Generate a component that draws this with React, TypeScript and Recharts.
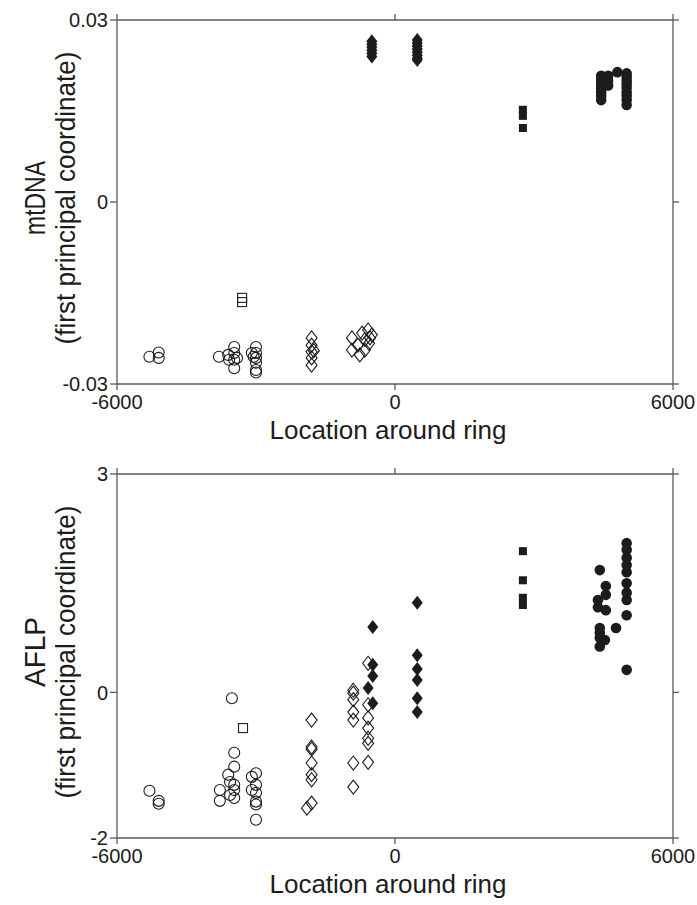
import React from "react";
import { ScatterChart, Scatter, XAxis, YAxis } from "recharts";

type Pt = { x: number; y: number };

const xTicks = [-6000, 0, 6000];
const mtTicks = [-0.03, 0, 0.03];
const aflpTicks = [-2, 0, 3];

// mtDNA panel
const mtOpenCircles: Pt[] = [
  { x: -5300, y: -0.0255 }, { x: -5100, y: -0.0248 }, { x: -5100, y: -0.0257 },
  { x: -3800, y: -0.0255 }, { x: -3600, y: -0.0252 }, { x: -3580, y: -0.026 },
  { x: -3470, y: -0.0239 }, { x: -3470, y: -0.0249 }, { x: -3470, y: -0.026 },
  { x: -3470, y: -0.0274 }, { x: -3410, y: -0.0257 },
  { x: -3090, y: -0.0249 }, { x: -3050, y: -0.0255 }, { x: -3000, y: -0.0239 },
  { x: -3000, y: -0.0249 }, { x: -3000, y: -0.0257 }, { x: -3000, y: -0.0265 },
  { x: -3000, y: -0.0277 }, { x: -3000, y: -0.0281 },
];
const mtOpenSquares: Pt[] = [
  { x: -3300, y: -0.0158 }, { x: -3300, y: -0.0165 },
];
const mtOpenDiamonds: Pt[] = [
  { x: -1800, y: -0.0224 }, { x: -1800, y: -0.0236 }, { x: -1800, y: -0.0247 },
  { x: -1800, y: -0.0257 }, { x: -1800, y: -0.0269 }, { x: -1750, y: -0.0245 },
  { x: -930, y: -0.0224 }, { x: -930, y: -0.0244 }, { x: -800, y: -0.0236 },
  { x: -760, y: -0.0252 }, { x: -710, y: -0.0216 }, { x: -650, y: -0.0227 },
  { x: -650, y: -0.0244 }, { x: -580, y: -0.0211 }, { x: -560, y: -0.0233 },
  { x: -540, y: -0.0224 }, { x: -500, y: -0.0219 },
];
const mtFilledDiamonds: Pt[] = [
  { x: -500, y: 0.0265 }, { x: -500, y: 0.026 }, { x: -500, y: 0.0255 },
  { x: -500, y: 0.025 }, { x: -500, y: 0.0245 }, { x: -500, y: 0.024 },
  { x: 480, y: 0.0267 }, { x: 480, y: 0.0262 }, { x: 480, y: 0.0257 },
  { x: 480, y: 0.0252 }, { x: 480, y: 0.0247 }, { x: 480, y: 0.0242 },
  { x: 480, y: 0.0237 }, { x: 480, y: 0.0234 },
];
const mtFilledSquares: Pt[] = [
  { x: 2760, y: 0.0152 }, { x: 2760, y: 0.0142 }, { x: 2760, y: 0.0122 },
];
const mtFilledCircles: Pt[] = [
  { x: 4450, y: 0.0208 }, { x: 4450, y: 0.0203 }, { x: 4450, y: 0.0198 },
  { x: 4450, y: 0.0192 }, { x: 4450, y: 0.0187 }, { x: 4450, y: 0.0181 },
  { x: 4450, y: 0.0175 }, { x: 4450, y: 0.0168 },
  { x: 4600, y: 0.0208 }, { x: 4600, y: 0.02 }, { x: 4600, y: 0.0192 },
  { x: 4800, y: 0.0214 },
  { x: 5000, y: 0.0212 }, { x: 5000, y: 0.0206 }, { x: 5000, y: 0.02 },
  { x: 5000, y: 0.0194 }, { x: 5000, y: 0.0188 }, { x: 5000, y: 0.0181 },
  { x: 5000, y: 0.0175 }, { x: 5000, y: 0.0168 }, { x: 5000, y: 0.016 },
];

// AFLP panel
const aflpOpenCircles: Pt[] = [
  { x: -5300, y: -1.35 }, { x: -5100, y: -1.49 }, { x: -5100, y: -1.53 },
  { x: -3780, y: -1.34 }, { x: -3780, y: -1.49 }, { x: -3600, y: -1.13 },
  { x: -3560, y: -1.23 }, { x: -3560, y: -1.41 }, { x: -3520, y: -0.08 },
  { x: -3470, y: -0.83 }, { x: -3470, y: -1.02 }, { x: -3470, y: -1.27 },
  { x: -3470, y: -1.34 }, { x: -3470, y: -1.45 },
  { x: -3090, y: -1.16 }, { x: -3090, y: -1.34 }, { x: -3000, y: -1.11 },
  { x: -3000, y: -1.27 }, { x: -3000, y: -1.38 }, { x: -3000, y: -1.5 },
  { x: -3000, y: -1.54 }, { x: -3000, y: -1.75 },
];
const aflpOpenSquares: Pt[] = [{ x: -3280, y: -0.49 }];
const aflpOpenDiamonds: Pt[] = [
  { x: -1800, y: -0.38 }, { x: -1800, y: -0.75 }, { x: -1800, y: -0.78 },
  { x: -1800, y: -0.97 }, { x: -1800, y: -1.13 }, { x: -1800, y: -1.2 },
  { x: -1800, y: -1.52 }, { x: -1900, y: -1.59 },
  { x: -900, y: 0.03 }, { x: -900, y: -0.01 }, { x: -900, y: -0.1 },
  { x: -900, y: -0.27 }, { x: -900, y: -0.38 }, { x: -900, y: -0.97 },
  { x: -900, y: -1.3 },
  { x: -580, y: 0.4 }, { x: -580, y: -0.17 }, { x: -580, y: -0.35 },
  { x: -580, y: -0.49 }, { x: -580, y: -0.63 }, { x: -580, y: -0.7 },
  { x: -580, y: -0.96 },
];
const aflpFilledDiamonds: Pt[] = [
  { x: -480, y: 0.9 }, { x: -480, y: 0.38 }, { x: -480, y: 0.225 },
  { x: -480, y: -0.15 }, { x: -580, y: 0.06 },
  { x: 480, y: 1.23 }, { x: 480, y: 0.51 }, { x: 480, y: 0.32 },
  { x: 480, y: 0.17 }, { x: 480, y: -0.08 }, { x: 480, y: -0.27 },
];
const aflpFilledSquares: Pt[] = [
  { x: 2760, y: 1.94 }, { x: 2760, y: 1.54 }, { x: 2760, y: 1.3 }, { x: 2760, y: 1.2 },
];
const aflpFilledCircles: Pt[] = [
  { x: 4420, y: 1.68 }, { x: 4550, y: 1.46 }, { x: 4550, y: 1.34 },
  { x: 4380, y: 1.27 }, { x: 4380, y: 1.17 }, { x: 4550, y: 1.13 },
  { x: 4420, y: 0.885 }, { x: 4420, y: 0.82 }, { x: 4420, y: 0.75 },
  { x: 4420, y: 0.63 }, { x: 4530, y: 0.72 }, { x: 4770, y: 0.885 },
  { x: 5000, y: 2.05 }, { x: 5000, y: 1.96 }, { x: 5000, y: 1.85 },
  { x: 5000, y: 1.75 }, { x: 5000, y: 1.65 }, { x: 5000, y: 1.5 },
  { x: 5000, y: 1.37 }, { x: 5000, y: 1.27 }, { x: 5000, y: 1.06 },
  { x: 5000, y: 0.31 },
];

const INK = "#1c1c1c";
const AXIS = "#5a5a5a";

const OpenCircle = ({ cx, cy }: any) => (
  <circle cx={cx} cy={cy} r={5.5} fill="none" stroke={INK} strokeWidth={1.1} />
);
const FilledCircle = ({ cx, cy }: any) => <circle cx={cx} cy={cy} r={5.3} fill={INK} />;
const OpenSquare = ({ cx, cy }: any) => (
  <rect x={cx - 4.5} y={cy - 4.5} width={9} height={9} fill="none" stroke={INK} strokeWidth={1.1} />
);
const FilledSquare = ({ cx, cy }: any) => (
  <rect x={cx - 4} y={cy - 4} width={8} height={8} fill={INK} />
);
const diamond = (cx: number, cy: number) =>
  `${cx},${cy - 7} ${cx + 5.5},${cy} ${cx},${cy + 7} ${cx - 5.5},${cy}`;
const OpenDiamond = ({ cx, cy }: any) => (
  <polygon points={diamond(cx, cy)} fill="none" stroke={INK} strokeWidth={1.1} />
);
const FilledDiamond = ({ cx, cy }: any) => <polygon points={diamond(cx, cy)} fill={INK} />;

const XTitle = (props: any) => {
  const vb = props.viewBox || {};
  return (
    <text x={388} y={(vb.y ?? 0) + 46} textAnchor="middle" dominantBaseline="central" fontSize={26} fill={INK}>
      Location around ring
    </text>
  );
};

const makeYTitle = (name: string, nameLen: number) => (props: any) => {
  const vb = props.viewBox || {};
  const cy = (vb.y ?? 0) + (vb.height ?? 0) / 2 - 4;
  return (
    <g>
      <text x={35} y={cy} transform={`rotate(-90, 35, ${cy})`} textAnchor="middle" dominantBaseline="central"
        fontSize={29} fill={INK} textLength={nameLen} lengthAdjust="spacingAndGlyphs">
        {name}
      </text>
      <text x={66} y={cy} transform={`rotate(-90, 66, ${cy})`} textAnchor="middle" dominantBaseline="central"
        fontSize={27} fill={INK} textLength={293} lengthAdjust="spacingAndGlyphs">
        (first principal coordinate)
      </text>
    </g>
  );
};

type Series = { data: Pt[]; shape: any };

function Panel(props: {
  height: number; topH: number; bottomH: number;
  yDomain: number[]; yTicks: number[]; yTitle: any; series: Series[];
}) {
  const { height, topH, bottomH, yDomain, yTicks, yTitle, series } = props;
  const tickStyle = { fontSize: 20, fill: INK };
  return (
    <ScatterChart width={697} height={height} margin={{ top: 0, right: 0, bottom: 0, left: 0 }}>
      <XAxis xAxisId="b" type="number" dataKey="x" domain={[-6000, 6000]} ticks={xTicks} interval={0}
        orientation="bottom" height={bottomH} tickSize={6} tickMargin={5} stroke={AXIS} strokeWidth={1.3}
        tick={tickStyle} label={{ content: XTitle }} allowDataOverflow />
      <XAxis xAxisId="t" type="number" dataKey="x" domain={[-6000, 6000]} ticks={xTicks} interval={0}
        orientation="top" height={topH} tickSize={6} stroke={AXIS} strokeWidth={1.3}
        tick={() => <g />} allowDataOverflow />
      <YAxis yAxisId="l" type="number" dataKey="y" domain={yDomain} ticks={yTicks} interval={0}
        width={117} tickSize={7} tickMargin={2} stroke={AXIS} strokeWidth={1.3}
        tick={tickStyle} label={{ content: yTitle }} allowDataOverflow />
      <YAxis yAxisId="r" type="number" dataKey="y" domain={yDomain} ticks={yTicks} interval={0}
        orientation="right" width={24} tickSize={6} stroke={AXIS} strokeWidth={1.3}
        tick={() => <g />} allowDataOverflow />
      {series.map((s, i) => (
        <Scatter key={i} data={s.data} xAxisId="b" yAxisId="l" shape={s.shape} isAnimationActive={false} />
      ))}
    </ScatterChart>
  );
}

export default function App() {
  const mtSeries: Series[] = [
    { data: mtOpenCircles, shape: OpenCircle },
    { data: mtOpenSquares, shape: OpenSquare },
    { data: mtOpenDiamonds, shape: OpenDiamond },
    { data: mtFilledDiamonds, shape: FilledDiamond },
    { data: mtFilledSquares, shape: FilledSquare },
    { data: mtFilledCircles, shape: FilledCircle },
  ];
  const aflpSeries: Series[] = [
    { data: aflpOpenCircles, shape: OpenCircle },
    { data: aflpOpenSquares, shape: OpenSquare },
    { data: aflpOpenDiamonds, shape: OpenDiamond },
    { data: aflpFilledDiamonds, shape: FilledDiamond },
    { data: aflpFilledSquares, shape: FilledSquare },
    { data: aflpFilledCircles, shape: FilledCircle },
  ];
  return (
    <div style={{ position: "absolute", top: 0, left: 0, width: 697, height: 905, background: "#fff",
      fontFamily: "'Liberation Sans', Arial, sans-serif" }}>
      <div style={{ height: 452 }}>
        <Panel height={452} topH={20} bottomH={68} yDomain={[-0.03, 0.03]} yTicks={mtTicks}
          yTitle={makeYTitle("mtDNA", 74)} series={mtSeries} />
      </div>
      <div style={{ height: 453 }}>
        <Panel height={453} topH={22} bottomH={67} yDomain={[-2, 3]} yTicks={aflpTicks}
          yTitle={makeYTitle("AFLP", 70)} series={aflpSeries} />
      </div>
    </div>
  );
}
